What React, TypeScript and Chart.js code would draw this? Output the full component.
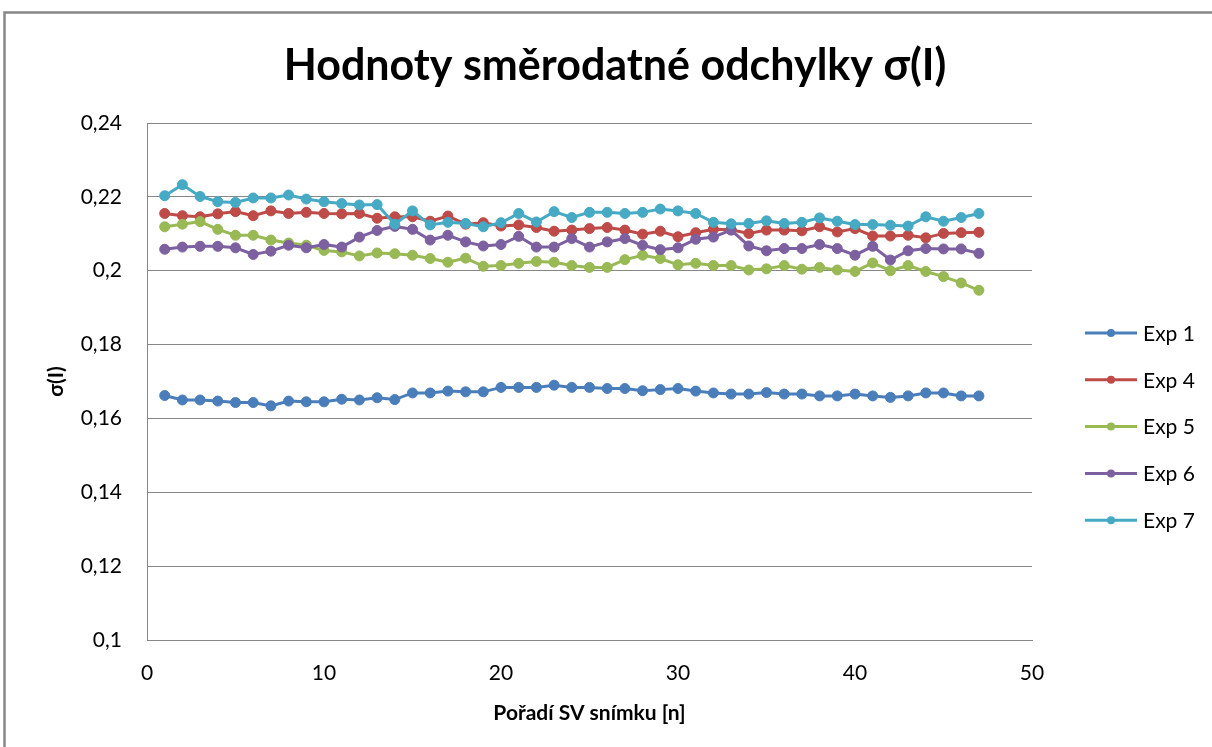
import { useEffect, useRef } from "react";
import { Chart, registerables } from "chart.js";

Chart.register(...registerables);

const chartTitle = "Hodnoty směrodatné odchylky σ(I)";
const xAxisTitle = "Pořadí SV snímku [n]";
const yAxisTitle = "σ(I)";

const frames = [
  1, 2, 3, 4, 5, 6, 7, 8, 9, 10, 11, 12, 13, 14, 15, 16, 17, 18, 19, 20, 21, 22, 23, 24,
  25, 26, 27, 28, 29, 30, 31, 32, 33, 34, 35, 36, 37, 38, 39, 40, 41, 42, 43, 44, 45, 46, 47,
];

const exp1 = [
  0.1662, 0.165, 0.165, 0.1647, 0.1643, 0.1643, 0.1634, 0.1647, 0.1645, 0.1645,
  0.1652, 0.165, 0.1656, 0.1651, 0.1669, 0.1669, 0.1674, 0.1672, 0.1672, 0.1684,
  0.1684, 0.1684, 0.169, 0.1684, 0.1684, 0.1681, 0.1681, 0.1675, 0.1678, 0.1681,
  0.1674, 0.1669, 0.1666, 0.1666, 0.167, 0.1666, 0.1666, 0.1661, 0.1661, 0.1666,
  0.1661, 0.1657, 0.1661, 0.1669, 0.1669, 0.1661, 0.1661,
];
const exp4 = [
  0.2155, 0.2149, 0.2146, 0.2154, 0.216, 0.2149, 0.2162, 0.2155, 0.2158, 0.2155,
  0.2154, 0.2155, 0.2142, 0.2146, 0.2146, 0.2134, 0.2148, 0.2126, 0.213, 0.2121,
  0.2124, 0.2117, 0.2107, 0.211, 0.2114, 0.2117, 0.211, 0.2099, 0.2107, 0.2092,
  0.2103, 0.2112, 0.2111, 0.2101, 0.211, 0.211, 0.2108, 0.2119, 0.2105, 0.2114,
  0.2094, 0.2094, 0.2096, 0.2089, 0.2101, 0.2103, 0.2104,
];
const exp5 = [
  0.2119, 0.2126, 0.2133, 0.2112, 0.2096, 0.2096, 0.2083, 0.2075, 0.2069, 0.2055,
  0.2051, 0.204, 0.2048, 0.2046, 0.2042, 0.2033, 0.2023, 0.2034, 0.2012, 0.2014,
  0.202, 0.2025, 0.2023, 0.2014, 0.2009, 0.2009, 0.203, 0.2042, 0.2033, 0.2016,
  0.202, 0.2014, 0.2014, 0.2002, 0.2005, 0.2014, 0.2004, 0.2009, 0.2002, 0.1998,
  0.2021, 0.2, 0.2014, 0.1998, 0.1984, 0.1967, 0.1947,
];
const exp6 = [
  0.2058, 0.2064, 0.2066, 0.2066, 0.2062, 0.2044, 0.2053, 0.2069, 0.2062, 0.2071,
  0.2064, 0.2091, 0.2109, 0.212, 0.2112, 0.2083, 0.2096, 0.2078, 0.2067, 0.2071,
  0.2093, 0.2064, 0.2064, 0.2087, 0.2064, 0.2078, 0.2087, 0.2069, 0.2057, 0.2062,
  0.2085, 0.2091, 0.211, 0.2067, 0.2054, 0.206, 0.206, 0.2071, 0.206, 0.2042,
  0.2066, 0.2029, 0.2054, 0.206, 0.2059, 0.2059, 0.2047,
];
const exp7 = [
  0.2203, 0.2233, 0.2201, 0.2187, 0.2185, 0.2197, 0.2197, 0.2205, 0.2194, 0.2187,
  0.2182, 0.2178, 0.2179, 0.2126, 0.2162, 0.2124, 0.2131, 0.2128, 0.2119, 0.213,
  0.2155, 0.2132, 0.216, 0.2144, 0.2158, 0.2158, 0.2155, 0.2158, 0.2167, 0.2162,
  0.2155, 0.2131, 0.2127, 0.2128, 0.2135, 0.2128, 0.2131, 0.2143, 0.2134, 0.2125,
  0.2125, 0.2123, 0.2121, 0.2146, 0.2134, 0.2144, 0.2155,
];

const seriesNames = ["Exp 1", "Exp 4", "Exp 5", "Exp 6", "Exp 7"];
const seriesValues = [exp1, exp4, exp5, exp6, exp7];
const seriesColors = ["#4A7EBB", "#BE4B48", "#98B954", "#7D60A0", "#46AAC5"];

const yMin = 0.1;
const yMax = 0.24;
const yStep = 0.02;
const xMin = 0;
const xMax = 50;
const xStep = 10;

const FONT = "Lato, 'Open Sans', sans-serif";
const GRID = "#868686";

const W = 1212;
const H = 747;

const decorPlugin = {
  id: "decor",
  beforeDraw(chart: any) {
    const ctx = chart.ctx;
    ctx.save();
    ctx.fillStyle = "#ffffff";
    ctx.fillRect(0, 0, chart.width, chart.height);
    ctx.restore();
  },
  afterDraw(chart: any) {
    const ctx = chart.ctx;
    ctx.save();
    // outer frame
    ctx.strokeStyle = "#878787";
    ctx.lineWidth = 2.5;
    ctx.strokeRect(4.5, 12.5, chart.width + 50, chart.height + 50);
    // title
    ctx.fillStyle = "#000000";
    ctx.font = `bold 43px ${FONT}`;
    ctx.textAlign = "center";
    ctx.textBaseline = "middle";
    ctx.fillText(chartTitle, 615, 66);
    // legend
    const lx0 = 1085;
    const lx1 = 1137;
    const ly0 = 333;
    const lstep = 46.8;
    ctx.font = `21px ${FONT}`;
    ctx.textAlign = "left";
    ctx.textBaseline = "middle";
    seriesNames.forEach((name, i) => {
      const y = ly0 + i * lstep;
      ctx.strokeStyle = seriesColors[i];
      ctx.lineWidth = 3;
      ctx.beginPath();
      ctx.moveTo(lx0, y);
      ctx.lineTo(lx1, y);
      ctx.stroke();
      ctx.fillStyle = seriesColors[i];
      ctx.beginPath();
      ctx.arc((lx0 + lx1) / 2, y, 4, 0, Math.PI * 2);
      ctx.fill();
      ctx.fillStyle = "#000000";
      ctx.fillText(name, 1143, y + 1);
    });
    ctx.restore();
  },
};

function fmt(v: number) {
  return String(Number(v.toFixed(2))).replace(".", ",");
}

export default function App() {
  const ref = useRef<HTMLCanvasElement | null>(null);

  useEffect(() => {
    if (!ref.current) return;
    const chart = new Chart(ref.current, {
      type: "line",
      data: {
        datasets: seriesNames.map((name, i) => ({
          label: name,
          data: frames.map((f, j) => ({ x: f, y: seriesValues[i][j] })),
          borderColor: seriesColors[i],
          backgroundColor: seriesColors[i],
          pointBackgroundColor: seriesColors[i],
          pointBorderColor: seriesColors[i],
          pointRadius: 5,
          pointBorderWidth: 1,
          borderWidth: 3,
          tension: 0,
          order: seriesNames.length - i,
        })),
      },
      plugins: [decorPlugin],
      options: {
        animation: false,
        responsive: false,
        devicePixelRatio: 1,
        layout: { padding: { top: 123, right: W - 1032, bottom: 0, left: 0 } },
        plugins: {
          legend: { display: false },
          title: { display: false },
          tooltip: { enabled: false },
        },
        scales: {
          x: {
            type: "linear",
            min: xMin,
            max: xMax,
            afterFit: (s: any) => {
              s.height = H - 640;
            },
            ticks: {
              stepSize: xStep,
              padding: 21,
              color: "#000000",
              font: { family: FONT, size: 21 },
              maxRotation: 0,
            },
            grid: { display: false, drawTicks: false },
            border: { display: true, color: GRID, width: 1 },
            title: {
              display: true,
              text: xAxisTitle,
              color: "#000000",
              font: { family: FONT, size: 21, weight: "bold" },
              padding: { top: 0, bottom: 21 },
            },
          },
          y: {
            min: yMin,
            max: yMax,
            afterFit: (s: any) => {
              s.width = 147;
            },
            ticks: {
              stepSize: yStep,
              padding: 25,
              color: "#000000",
              font: { family: FONT, size: 21 },
              callback: (v: any) => fmt(Number(v)),
            },
            grid: { color: GRID, lineWidth: 1, drawTicks: false },
            border: { display: true, color: GRID, width: 1 },
            title: {
              display: true,
              text: yAxisTitle,
              color: "#000000",
              font: { family: FONT, size: 21, weight: "bold" },
              padding: { top: 44, bottom: 0 },
            },
          },
        },
      },
    } as any);
    return () => chart.destroy();
  }, []);

  return (
    <div style={{ position: "fixed", left: 0, top: 0, width: W, height: H, background: "#fff" }}>
      <canvas ref={ref} width={W} height={H} style={{ width: W, height: H, display: "block" }} />
    </div>
  );
}
